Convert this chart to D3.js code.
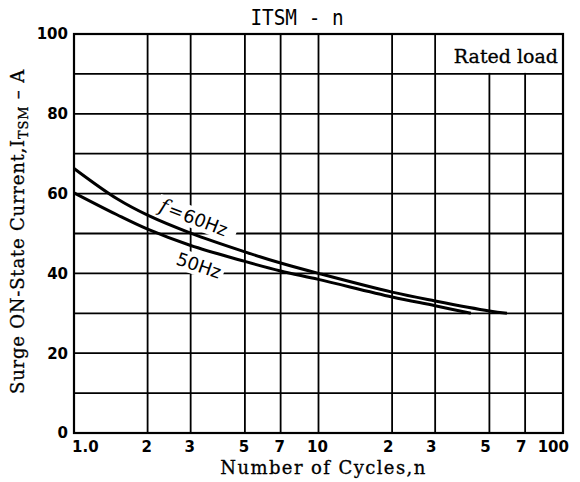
<!DOCTYPE html>
<html>
<head>
<meta charset="utf-8">
<script src="https://cdn.jsdelivr.net/npm/d3@7"></script>
<style>
  body { margin: 0; background: #fff; }
  svg { display: block; }
</style>
</head>
<body>
<div id="chart"></div>
<script>
// data (cycles at 60 Hz / 50 Hz, amps)
var cycles60 = [1, 1.5, 2, 3, 5, 7, 10, 20, 30, 50, 59];
var current60 = [66.3, 58.7, 54.6, 50.1, 45.4, 42.6, 40.0, 35.3, 33.1, 30.6, 30.0];
var cycles50 = [1, 1.5, 2, 3, 5, 7, 10, 20, 30, 42];
var current50 = [60.2, 54.7, 51.1, 47.0, 43.0, 40.6, 38.5, 34.1, 31.9, 30.0];

var xTicks = [1, 2, 3, 5, 7, 10, 20, 30, 50, 70, 100];
var xTickLabels = ["1.0", "2", "3", "5", "7", "10", "2", "3", "5", "7", "100"];
var yTicks = [0, 20, 40, 60, 80, 100];
var yGrid = [10, 20, 30, 40, 50, 60, 70, 80, 90];

const width = 580,
    height = 482,
    plotL = 74, plotR = 563, plotT = 34, plotB = 433;

const svg = d3.select("#chart")
    .append("svg")
    .attr("width", width)
    .attr("height", height);

const x = d3.scaleLog().domain([1, 100]).range([plotL, plotR]);
const y = d3.scaleLinear().domain([0, 100]).range([plotB, plotT]);

// grid
const grid = svg.append("g").attr("id", "grid")
    .attr("stroke", "#000").attr("stroke-width", 1.8);

grid.selectAll("line.v")
    .data(xTicks.slice(1, -1))
    .enter().append("line")
    .attr("class", "v")
    .attr("x1", function (d) { return x(d); })
    .attr("x2", function (d) { return x(d); })
    .attr("y1", plotT).attr("y2", plotB);

grid.selectAll("line.h")
    .data(yGrid)
    .enter().append("line")
    .attr("class", "h")
    .attr("x1", plotL).attr("x2", plotR)
    .attr("y1", function (d) { return y(d); })
    .attr("y2", function (d) { return y(d); });

// "Rated load" cell hides the 50 / 70 lines
svg.append("rect")
    .attr("x", x(30) + 1).attr("y", y(100) + 1)
    .attr("width", x(100) - x(30) - 2).attr("height", y(90) - y(100) - 2)
    .attr("fill", "#fff");

svg.append("text")
    .attr("x", x(100) - 5).attr("y", y(90) - 11)
    .attr("text-anchor", "end")
    .style("font-family", "DejaVu Serif")
    .style("font-size", "19px")
    .attr("stroke", "#000").attr("stroke-width", 0.3)
    .text("Rated load");

// frame
svg.append("rect")
    .attr("x", plotL).attr("y", plotT)
    .attr("width", plotR - plotL).attr("height", plotB - plotT)
    .attr("fill", "none").attr("stroke", "#000").attr("stroke-width", 2.2);

// curves
const line = d3.line()
    .x(function (d) { return x(d[0]); })
    .y(function (d) { return y(d[1]); })
    .curve(d3.curveCatmullRom.alpha(0.5));

const curves = [d3.zip(cycles60, current60), d3.zip(cycles50, current50)];

// labels on white patches, drawn before the curves
function curveLabel(parts, px, py, angle, w) {
    const g = svg.append("g")
        .attr("transform", "translate(" + px + "," + py + ") rotate(" + angle + ")");
    g.append("rect")
        .attr("x", -3).attr("y", -17).attr("width", w).attr("height", 21)
        .attr("fill", "#fff");
    const t = g.append("text")
        .style("font-family", "DejaVu Sans")
        .style("font-size", "18px");
    parts.forEach(function (p) {
        t.append("tspan")
            .style("font-family", p.font || null)
            .style("font-style", p.italic ? "italic" : null)
            .style("font-size", p.size || null)
            .attr("dx", p.dx || 0)
            .text(p.text);
    });
}

curveLabel([{ text: "f", font: "DejaVu Serif", italic: true, size: "20px" },
            { text: "=", dx: 2 },
            { text: "60Hz", dx: 1 }], 158, 211, 21, 84);
curveLabel([{ text: "50Hz" }], 175, 264, 19, 52);

svg.append("g").attr("id", "curves")
    .selectAll("path")
    .data(curves)
    .enter().append("path")
    .attr("d", line)
    .attr("fill", "none")
    .attr("stroke", "#000")
    .attr("stroke-width", 3);

// tick labels
svg.append("g")
    .selectAll("text")
    .data(yTicks)
    .enter().append("text")
    .attr("x", 68)
    .attr("y", function (d) { return y(d); })
    .attr("dy", "0.36em")
    .attr("text-anchor", "end")
    .style("font-family", "DejaVu Sans")
    .style("font-weight", "bold")
    .style("font-size", "15px")
    .text(function (d) { return d; });

svg.append("g")
    .selectAll("text")
    .data(xTicks)
    .enter().append("text")
    .attr("x", function (d, i) {
        if (i === 0) return x(d) - 2;
        if (i === xTicks.length - 1) return x(d) + 6;
        return x(d) - (d > 10 ? 4 : 1);
    })
    .attr("y", 452)
    .attr("text-anchor", function (d, i) {
        return i === 0 ? "start" : (i === xTicks.length - 1 ? "end" : "middle");
    })
    .style("font-family", "DejaVu Sans")
    .style("font-weight", "bold")
    .style("font-size", "15px")
    .text(function (d, i) { return xTickLabels[i]; });

// title
svg.append("text")
    .attr("transform", "translate(297,25) scale(0.88,1)")
    .attr("text-anchor", "middle")
    .style("font-family", "DejaVu Sans Mono")
    .style("font-size", "22px")
    .text("ITSM - n");

// axis titles
svg.append("text")
    .attr("x", (plotL + plotR) / 2 + 5)
    .attr("y", 474)
    .attr("text-anchor", "middle")
    .style("font-family", "DejaVu Serif")
    .style("font-size", "18px")
    .style("letter-spacing", "1.4px")
    .attr("stroke", "#000").attr("stroke-width", 0.3)
    .text("Number of Cycles,n");

const yl = svg.append("text")
    .attr("transform", "translate(24," + ((plotT + plotB) / 2 - 2) + ") rotate(-90)")
    .attr("text-anchor", "middle")
    .style("font-family", "DejaVu Serif")
    .style("font-size", "18px")
    .style("letter-spacing", "0.8px")
    .attr("stroke", "#000").attr("stroke-width", 0.3);
yl.append("tspan").text("Surge ON-State Current,I");
yl.append("tspan").attr("dy", 4).style("font-size", "13px").text("TSM");
yl.append("tspan").attr("dy", -4).text(" \u2013 A");
</script>
</body>
</html>
